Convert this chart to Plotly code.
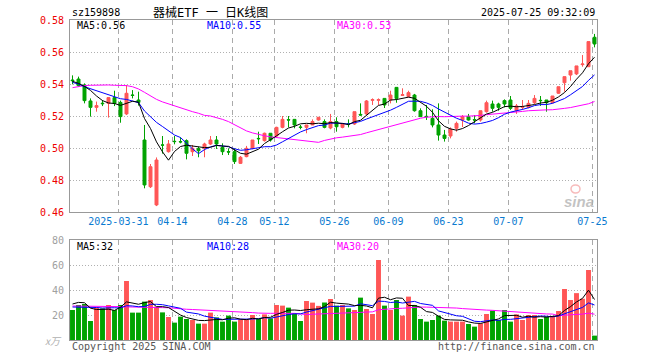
import plotly.graph_objects as go
import pandas as pd

# ---------------- data ----------------
opens = [0.5425, 0.5431, 0.5394, 0.5294, 0.5254, 0.5280, 0.5279, 0.5315, 0.5285, 0.5213,
         0.5331, 0.5300, 0.5050, 0.4758, 0.4644, 0.5019, 0.4977, 0.5042, 0.5040, 0.5046,
         0.4977, 0.4996, 0.4998, 0.5025, 0.5050, 0.5004, 0.4977, 0.4977, 0.4904, 0.4946,
         0.4998, 0.5060, 0.5046, 0.5092, 0.5075, 0.5129, 0.5177, 0.5179, 0.5131, 0.5129,
         0.5144, 0.5175, 0.5165, 0.5125, 0.5165, 0.5129, 0.5152, 0.5150, 0.5210, 0.5213,
         0.5298, 0.5298, 0.5310, 0.5300, 0.5379, 0.5329, 0.5321, 0.5331, 0.5233, 0.5198,
         0.5185, 0.5144, 0.5081, 0.5075, 0.5123, 0.5175, 0.5196, 0.5177, 0.5175, 0.5227,
         0.5275, 0.5275, 0.5296, 0.5300, 0.5233, 0.5254, 0.5254, 0.5283, 0.5298, 0.5300,
         0.5283, 0.5342, 0.5408, 0.5456, 0.5463, 0.5521, 0.5508, 0.5692]
highs = [0.5454, 0.5446, 0.5404, 0.5310, 0.5290, 0.5300, 0.5315, 0.5358, 0.5296, 0.5394,
         0.5362, 0.5352, 0.5144, 0.4900, 0.4941, 0.5075, 0.5050, 0.5075, 0.5067, 0.5054,
         0.5019, 0.5008, 0.5033, 0.5075, 0.5075, 0.5029, 0.4998, 0.4998, 0.4950, 0.5013,
         0.5050, 0.5102, 0.5096, 0.5092, 0.5133, 0.5200, 0.5200, 0.5179, 0.5144, 0.5144,
         0.5179, 0.5192, 0.5179, 0.5213, 0.5192, 0.5154, 0.5179, 0.5227, 0.5279, 0.5300,
         0.5310, 0.5310, 0.5310, 0.5358, 0.5379, 0.5373, 0.5358, 0.5338, 0.5248, 0.5269,
         0.5242, 0.5279, 0.5113, 0.5129, 0.5165, 0.5206, 0.5213, 0.5206, 0.5233, 0.5296,
         0.5296, 0.5283, 0.5304, 0.5325, 0.5275, 0.5300, 0.5300, 0.5331, 0.5325, 0.5300,
         0.5325, 0.5383, 0.5446, 0.5483, 0.5513, 0.5581, 0.5665, 0.5713]
lows = [0.5398, 0.5383, 0.5279, 0.5196, 0.5227, 0.5262, 0.5190, 0.5262, 0.5158, 0.5206,
        0.5310, 0.5265, 0.4748, 0.4750, 0.4637, 0.4965, 0.4971, 0.5023, 0.5029, 0.4929,
        0.4950, 0.4942, 0.4942, 0.5019, 0.4994, 0.4956, 0.4956, 0.4900, 0.4900, 0.4942,
        0.4992, 0.5025, 0.5040, 0.5040, 0.5071, 0.5123, 0.5129, 0.5123, 0.5117, 0.5092,
        0.5144, 0.5171, 0.5123, 0.5117, 0.5102, 0.5123, 0.5129, 0.5144, 0.5202, 0.5206,
        0.5269, 0.5269, 0.5250, 0.5279, 0.5283, 0.5325, 0.5317, 0.5227, 0.5196, 0.5175,
        0.5129, 0.5046, 0.5040, 0.5060, 0.5102, 0.5131, 0.5171, 0.5154, 0.5165, 0.5221,
        0.5227, 0.5233, 0.5254, 0.5238, 0.5213, 0.5238, 0.5248, 0.5275, 0.5263, 0.5227,
        0.5279, 0.5338, 0.5352, 0.5421, 0.5456, 0.5508, 0.5508, 0.5629]
closes = [0.5421, 0.5390, 0.5296, 0.5254, 0.5265, 0.5277, 0.5315, 0.5279, 0.5196, 0.5342,
          0.5329, 0.5285, 0.4769, 0.4883, 0.4925, 0.5018, 0.5025, 0.5040, 0.5038, 0.4967,
          0.4998, 0.4983, 0.5025, 0.5050, 0.5025, 0.4977, 0.4975, 0.4915, 0.4942, 0.4998,
          0.5050, 0.5058, 0.5092, 0.5050, 0.5129, 0.5179, 0.5175, 0.5144, 0.5129, 0.5144,
          0.5165, 0.5192, 0.5129, 0.5165, 0.5133, 0.5150, 0.5150, 0.5227, 0.5206, 0.5294,
          0.5302, 0.5302, 0.5269, 0.5331, 0.5310, 0.5333, 0.5346, 0.5233, 0.5196, 0.5196,
          0.5144, 0.5081, 0.5060, 0.5117, 0.5154, 0.5196, 0.5175, 0.5175, 0.5233, 0.5283,
          0.5248, 0.5254, 0.5275, 0.5248, 0.5263, 0.5258, 0.5279, 0.5310, 0.5296, 0.5283,
          0.5325, 0.5383, 0.5446, 0.5483, 0.5513, 0.5525, 0.5665, 0.5650]
volumes = [24.0, 28.0, 28.8, 15.2, 25.9, 25.3, 28.0, 24.0, 28.0, 47.2,
           21.9, 21.9, 30.7, 32.0, 26.7, 22.1, 18.4, 13.9, 18.7, 16.8,
           16.0, 13.1, 13.1, 21.9, 18.1, 14.7, 19.5, 14.7, 16.3, 16.3,
           20.0, 16.8, 20.5, 17.3, 28.0, 27.5, 25.9, 21.3, 15.2, 31.2,
           29.9, 27.3, 30.0, 32.8, 27.5, 28.0, 25.3, 24.0, 33.9, 24.8,
           20.8, 64.0, 27.5, 24.0, 32.0, 19.5, 34.7, 28.0, 16.8, 14.7,
           16.0, 19.5, 15.5, 14.7, 14.7, 14.7, 12.8, 10.7, 13.3, 20.8,
           23.5, 16.0, 24.0, 14.7, 20.5, 16.0, 20.0, 20.0, 16.8, 18.7,
           18.7, 23.2, 40.8, 32.0, 37.5, 33.0, 56.0, 3.5]

# moving-average values at the start of the window (earlier days are not shown)
ma5_head = [0.5417, 0.5404, 0.5385, 0.5360]
ma10_head = [0.5410, 0.5400, 0.5383, 0.5371, 0.5356, 0.5344, 0.5331, 0.5321, 0.5308]
ma30_head = [0.5377, 0.5385, 0.5390, 0.5392, 0.5394, 0.5394, 0.5394, 0.5392, 0.5392, 0.5390,
             0.5383, 0.5369, 0.5348, 0.5325, 0.5304, 0.5288, 0.5275, 0.5265, 0.5252, 0.5238,
             0.5227, 0.5217, 0.5204, 0.5200, 0.5190, 0.5179, 0.5165, 0.5144, 0.5123]
vma5_head = [28.8, 30.1, 29.8, 25.5]
vma10_head = [26.4, 26.4, 26.6, 26.4, 26.0, 25.6, 25.9, 25.8, 25.6]
vma30_head = [27.2, 27.2, 27.1, 27.0, 27.0, 26.9, 26.8, 26.7, 26.7, 26.5,
              26.3, 26.2, 26.1, 26.0, 26.0, 25.9, 25.8, 25.2, 24.9, 24.6,
              24.4, 24.2, 24.0, 23.8, 23.6, 23.4, 23.2, 23.0, 22.8]

tick_index = [8, 17, 27, 34, 44, 53, 63, 73, 87]
tick_labels = ["2025-03-31", "04-14", "04-28", "05-12", "05-26", "06-09", "06-23", "07-07", "07-25"]
price_ticks = [0.46, 0.48, 0.50, 0.52, 0.54, 0.56, 0.58]
volume_ticks = [20, 40, 60, 80]

code = "sz159898"
title = "器械ETF 一 日K线图"
stamp = "2025-07-25 09:32:09"

# ---------------- helpers ----------------
W, H = 660, 360
def px(x):
    return x / W
def py(y):
    return 1 - y / H

n = len(closes)
xs = list(range(n))


def moving(values, window, head):
    s = pd.Series(values, dtype=float).rolling(window).mean()
    for i, v in enumerate(head):
        s.iloc[i] = v
    return s


ma5 = moving(closes, 5, ma5_head)
ma10 = moving(closes, 10, ma10_head)
ma30 = moving(closes, 30, ma30_head)
vma5 = moving(volumes, 5, vma5_head)
vma10 = moving(volumes, 10, vma10_head)
vma30 = moving(volumes, 30, vma30_head)

RED = "#ff5656"
GREEN = "#00a300"
MONO = "DejaVu Sans Mono, Liberation Mono, monospace"

vol_colors = [RED if c >= o else GREEN for o, c in zip(opens, closes)]

fig = go.Figure()
fig.add_trace(go.Candlestick(
    x=xs, open=opens, high=highs, low=lows, close=closes,
    increasing=dict(line=dict(color=RED, width=1), fillcolor=RED),
    decreasing=dict(line=dict(color=GREEN, width=1), fillcolor=GREEN),
    whiskerwidth=0, xaxis="x", yaxis="y", showlegend=False, hoverinfo="skip"))
for s, col in ((ma30, "#ff00ff"), (ma10, "#0000ff"), (ma5, "#000000")):
    fig.add_trace(go.Scatter(x=xs, y=s, mode="lines", line=dict(color=col, width=1),
                             xaxis="x", yaxis="y", showlegend=False, hoverinfo="skip"))

fig.add_trace(go.Bar(x=xs, y=volumes, marker=dict(color=vol_colors, line=dict(width=0)),
                     width=0.82, xaxis="x2", yaxis="y2", showlegend=False, hoverinfo="skip"))
for s, col in ((vma30, "#ff00ff"), (vma10, "#0000ff"), (vma5, "#000000")):
    fig.add_trace(go.Scatter(x=xs, y=s, mode="lines", line=dict(color=col, width=1),
                             xaxis="x2", yaxis="y2", showlegend=False, hoverinfo="skip"))

xr = [-0.4167, n - 1 + 0.4167]
tickpos = [i - 0.35 for i in tick_index]
xdom = [px(70), px(597)]
common_x = dict(domain=xdom, range=xr, tickvals=tickpos, showgrid=True, gridcolor="#aaaaaa",
                griddash="5px,4px", gridwidth=1, zeroline=False, showline=True, mirror=True,
                linecolor="#999999", linewidth=1, ticks="", fixedrange=True, automargin=False)

fig.update_layout(
    width=W, height=H, margin=dict(l=0, r=0, t=0, b=0, autoexpand=False),
    paper_bgcolor="white", plot_bgcolor="white", hovermode=False,
    xaxis=dict(**common_x, anchor="y", ticktext=tick_labels,
               tickfont=dict(family=MONO, size=10, color="#0a7ad0"),
               rangeslider=dict(visible=False)),
    yaxis=dict(domain=[py(212), py(20)], range=[0.46, 0.58], tickvals=price_ticks,
               ticktext=["%.2f" % v for v in price_ticks],
               tickfont=dict(family=MONO, size=10, color="#ee0000"),
               showgrid=True, gridcolor="#b0b0b0", griddash="1px,2px", gridwidth=1,
               zeroline=False, showline=True, mirror=True, linecolor="#999999", linewidth=1,
               ticks="", ticklabelstandoff=3, fixedrange=True, anchor="x", automargin=False),
    xaxis2=dict(**common_x, anchor="y2", showticklabels=False),
    yaxis2=dict(domain=[py(340), py(240)], range=[0, 80], tickvals=volume_ticks,
                ticktext=[str(v) for v in volume_ticks],
                tickfont=dict(family=MONO, size=10, color="#a0a0a0"),
                showgrid=True, gridcolor="#b0b0b0", griddash="1px,2px", gridwidth=1,
                zeroline=False, showline=True, mirror=True, linecolor="#999999", linewidth=1,
                ticks="", ticklabelstandoff=3, fixedrange=True, anchor="x2", automargin=False),
)


def note(text, x, y, color="#000000", anchor="left", size=10, family=MONO, italic=False):
    fig.add_annotation(text=("<i>%s</i>" % text) if italic else text, x=px(x), y=py(y),
                       xref="paper", yref="paper", xanchor=anchor, yanchor="middle",
                       showarrow=False, font=dict(family=family, size=size, color=color))


note(code, 70, 13, size=10)
note(title, 210, 13, anchor="center", size=12,
     family="DejaVu Sans Mono, Noto Sans CJK SC, monospace")
note(stamp, 597, 13, anchor="right", size=10)

note("MA5:%.2f" % ma5.iloc[-1], 75, 26)
note("MA10:%.2f" % ma10.iloc[-1], 205, 26, color="#0000ff")
note("MA30:%.2f" % ma30.iloc[-1], 335, 26, color="#ff00ff")
note("MA5:%d" % int(vma5.iloc[-1]), 75, 246)
note("MA10:%d" % int(vma10.iloc[-1]), 205, 246, color="#0000ff")
note("MA30:%d" % int(vma30.iloc[-1]), 335, 246, color="#ff00ff")

note("x万", 64, 340, color="#b0b0b0", anchor="right", size=10,
     family="Noto Sans CJK SC, sans-serif", italic=True)
note("Copyright 2025 SINA.COM", 70, 346, color="#555555")
note("http://finance.sina.com.cn", 597, 346, color="#555555", anchor="right")
note("<b>sina</b>", 579, 201, color="rgba(175,175,175,0.75)", anchor="center", size=15,
     family="Liberation Sans, sans-serif", italic=True)
fig.add_shape(type="circle", xref="paper", yref="paper",
              x0=px(571), x1=px(580), y0=py(193), y1=py(185),
              line=dict(color="rgba(240,120,120,0.5)", width=1.5),
              fillcolor="rgba(255,255,255,0)")

fig.write_html("out.html", config={"displayModeBar": False, "staticPlot": True},
               post_script="document.body.style.margin='0px';document.body.style.overflow='hidden';")
